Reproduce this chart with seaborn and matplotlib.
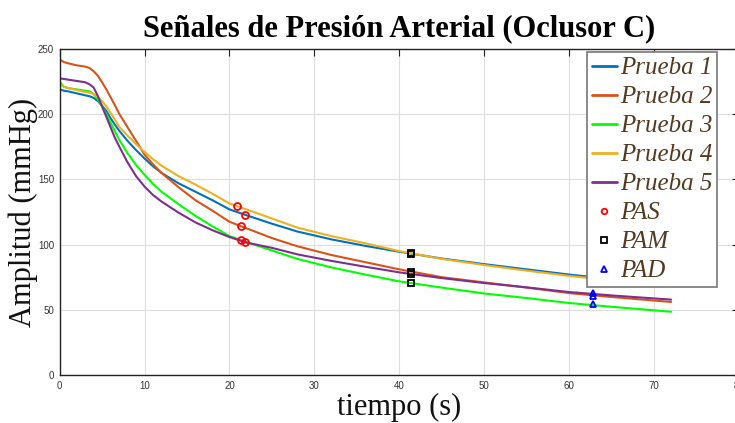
import numpy as np
import pandas as pd
import matplotlib
matplotlib.use("Agg")
import matplotlib.pyplot as plt
import seaborn as sns
from matplotlib.lines import Line2D

# Sample times (s) of the recorded pressure decay
tiempo = [0, 0.5, 1, 2, 3, 3.5, 4, 4.5, 5, 5.5, 6, 6.5, 7, 8, 9, 10, 11, 12,
          14, 16, 18, 20, 22, 25, 28, 32, 36, 40, 45, 50, 55, 60, 65, 72]

# Cuff pressure (mmHg) for each trial
prueba_1 = [219, 218, 217.5, 216, 214.5, 213.8, 212.5, 210, 206.5, 202.5, 197,
            192, 187.5, 179.5, 172.5, 166, 160, 155, 147, 140.5, 134, 127,
            122.5, 116, 110, 104, 99, 94.5, 89.3, 85, 81, 77, 73.5, 69]
prueba_2 = [242, 240, 239, 237.5, 236.5, 235.5, 233, 229.5, 224.5, 219, 213,
            207, 200.5, 190, 179.5, 169, 161.5, 155, 144, 134, 126, 117.5,
            112.5, 105, 98.7, 92, 86.5, 81, 75, 71, 67, 62.8, 59.8, 56]
prueba_3 = [225, 221, 220, 219, 218, 217.5, 215.5, 211.5, 206, 200, 193.5,
            187, 180.5, 170, 161, 153.5, 146.5, 140.5, 131, 122, 114, 106.5,
            102, 95.5, 89, 82.5, 77, 71.8, 67, 62.5, 59, 55.2, 52.3, 48.5]
prueba_4 = [223, 221, 220, 218.5, 217, 216.5, 215.5, 213, 210, 206, 201, 196,
            190.5, 183.5, 177, 171, 165.5, 160.5, 152.5, 146, 139, 131.5, 127,
            120, 113, 106.5, 101, 95, 89, 84.3, 80, 76, 72.5, 68]
prueba_5 = [227.5, 227, 226.5, 225.5, 224.5, 223, 220.5, 214, 206, 198, 190,
            182, 175.5, 163, 152.5, 144.5, 138, 133, 124.5, 117, 111, 105.8,
            101.5, 97.5, 92.5, 87.5, 83, 78.7, 74.3, 70.5, 67.2, 63.6, 61, 57.8]

series_names = ["Prueba 1", "Prueba 2", "Prueba 3", "Prueba 4", "Prueba 5"]
series_colors = ["#0072BD", "#D95319", "#00FF00", "#EDB120", "#7E2F8E"]

# Systolic (PAS), mean (PAM) and diastolic (PAD) points, one per trial
pas_t = [21.8, 21.4, 21.4, 20.9, 21.8]
pas_v = [122.7, 114.5, 103.5, 129.6, 102.2]
pam_t = [41.4, 41.4, 41.4, 41.4, 41.4]
pam_v = [93.0, 79.2, 70.3, 93.2, 77.2]
pad_t = [62.8, 62.8, 62.8, 62.8, 62.8]
pad_v = [75.2, 60.8, 54.2, 74.2, 62.8]

x_ticks = [0, 10, 20, 30, 40, 50, 60, 70, 80]
y_ticks = [0, 50, 100, 150, 200, 250]

df = pd.concat([
    pd.DataFrame({"tiempo": tiempo, "amplitud": vals, "serie": name})
    for name, vals in zip(series_names,
                          [prueba_1, prueba_2, prueba_3, prueba_4, prueba_5])
], ignore_index=True)

sns.set_theme(style="white")
plt.rcParams["font.family"] = ["Liberation Sans", "DejaVu Sans"]

fig = plt.figure(figsize=(7.35, 4.23), dpi=100)
ax = fig.add_axes([0.0811, 0.1135, 0.9244, 0.7707])

sns.lineplot(data=df, x="tiempo", y="amplitud", hue="serie",
             hue_order=series_names, palette=series_colors,
             estimator=None, sort=False, linewidth=1.5, ax=ax, legend=False)

ax.plot(pas_t, pas_v, "o", ls="none", mfc="none", mec="red", ms=5, mew=1.3)
ax.plot(pam_t, pam_v, "s", ls="none", mfc="none", mec="black", ms=4.5, mew=1.3)
ax.plot(pad_t, pad_v, "^", ls="none", mfc="none", mec="blue", ms=5, mew=1.3)

ax.set_xlim(0, 80)
ax.set_ylim(0, 250)
ax.set_xticks(x_ticks)
ax.set_yticks(y_ticks)
ax.tick_params(direction="in", length=5, width=0.8, top=True, right=True,
               labelsize=7, colors="#222222", pad=4)
ax.tick_params(axis="both", labelcolor="#333333")
ax.grid(True, color="#dddddd", linewidth=0.8)
for s in ax.spines.values():
    s.set_color("#222222")
    s.set_linewidth(1.0)

serif = ["Liberation Serif", "DejaVu Serif"]
ax.set_title("Señales de Presión Arterial (Oclusor C)", fontsize=22,
             fontweight="bold", family=serif, pad=9, color="black")
ax.set_xlabel("tiempo (s)", fontsize=22, family=serif, labelpad=2,
              color="#111111")
ax.set_ylabel("Amplitud (mmHg)", fontsize=22, family=serif, labelpad=0,
              color="#111111")

handles = [Line2D([], [], color=c, lw=2) for c in series_colors]
handles += [
    Line2D([], [], marker="o", ls="none", mfc="none", mec="red", ms=4, mew=1.3),
    Line2D([], [], marker="s", ls="none", mfc="none", mec="black", ms=4, mew=1.3),
    Line2D([], [], marker="^", ls="none", mfc="none", mec="blue", ms=4, mew=1.3),
]
labels = series_names + ["PAS", "PAM", "PAD"]
leg = ax.legend(handles, labels, loc="upper left", bbox_to_anchor=(0.776, 0.991),
                prop={"family": serif, "style": "italic", "size": 18},
                labelcolor="#54391f", frameon=True, fancybox=False,
                framealpha=1, edgecolor="#777777", handlelength=1.0,
                handletextpad=0.12, labelspacing=0.26, borderpad=0.2,
                borderaxespad=0)
leg.get_frame().set_linewidth(1.2)

fig.savefig("out.png", dpi=100)
